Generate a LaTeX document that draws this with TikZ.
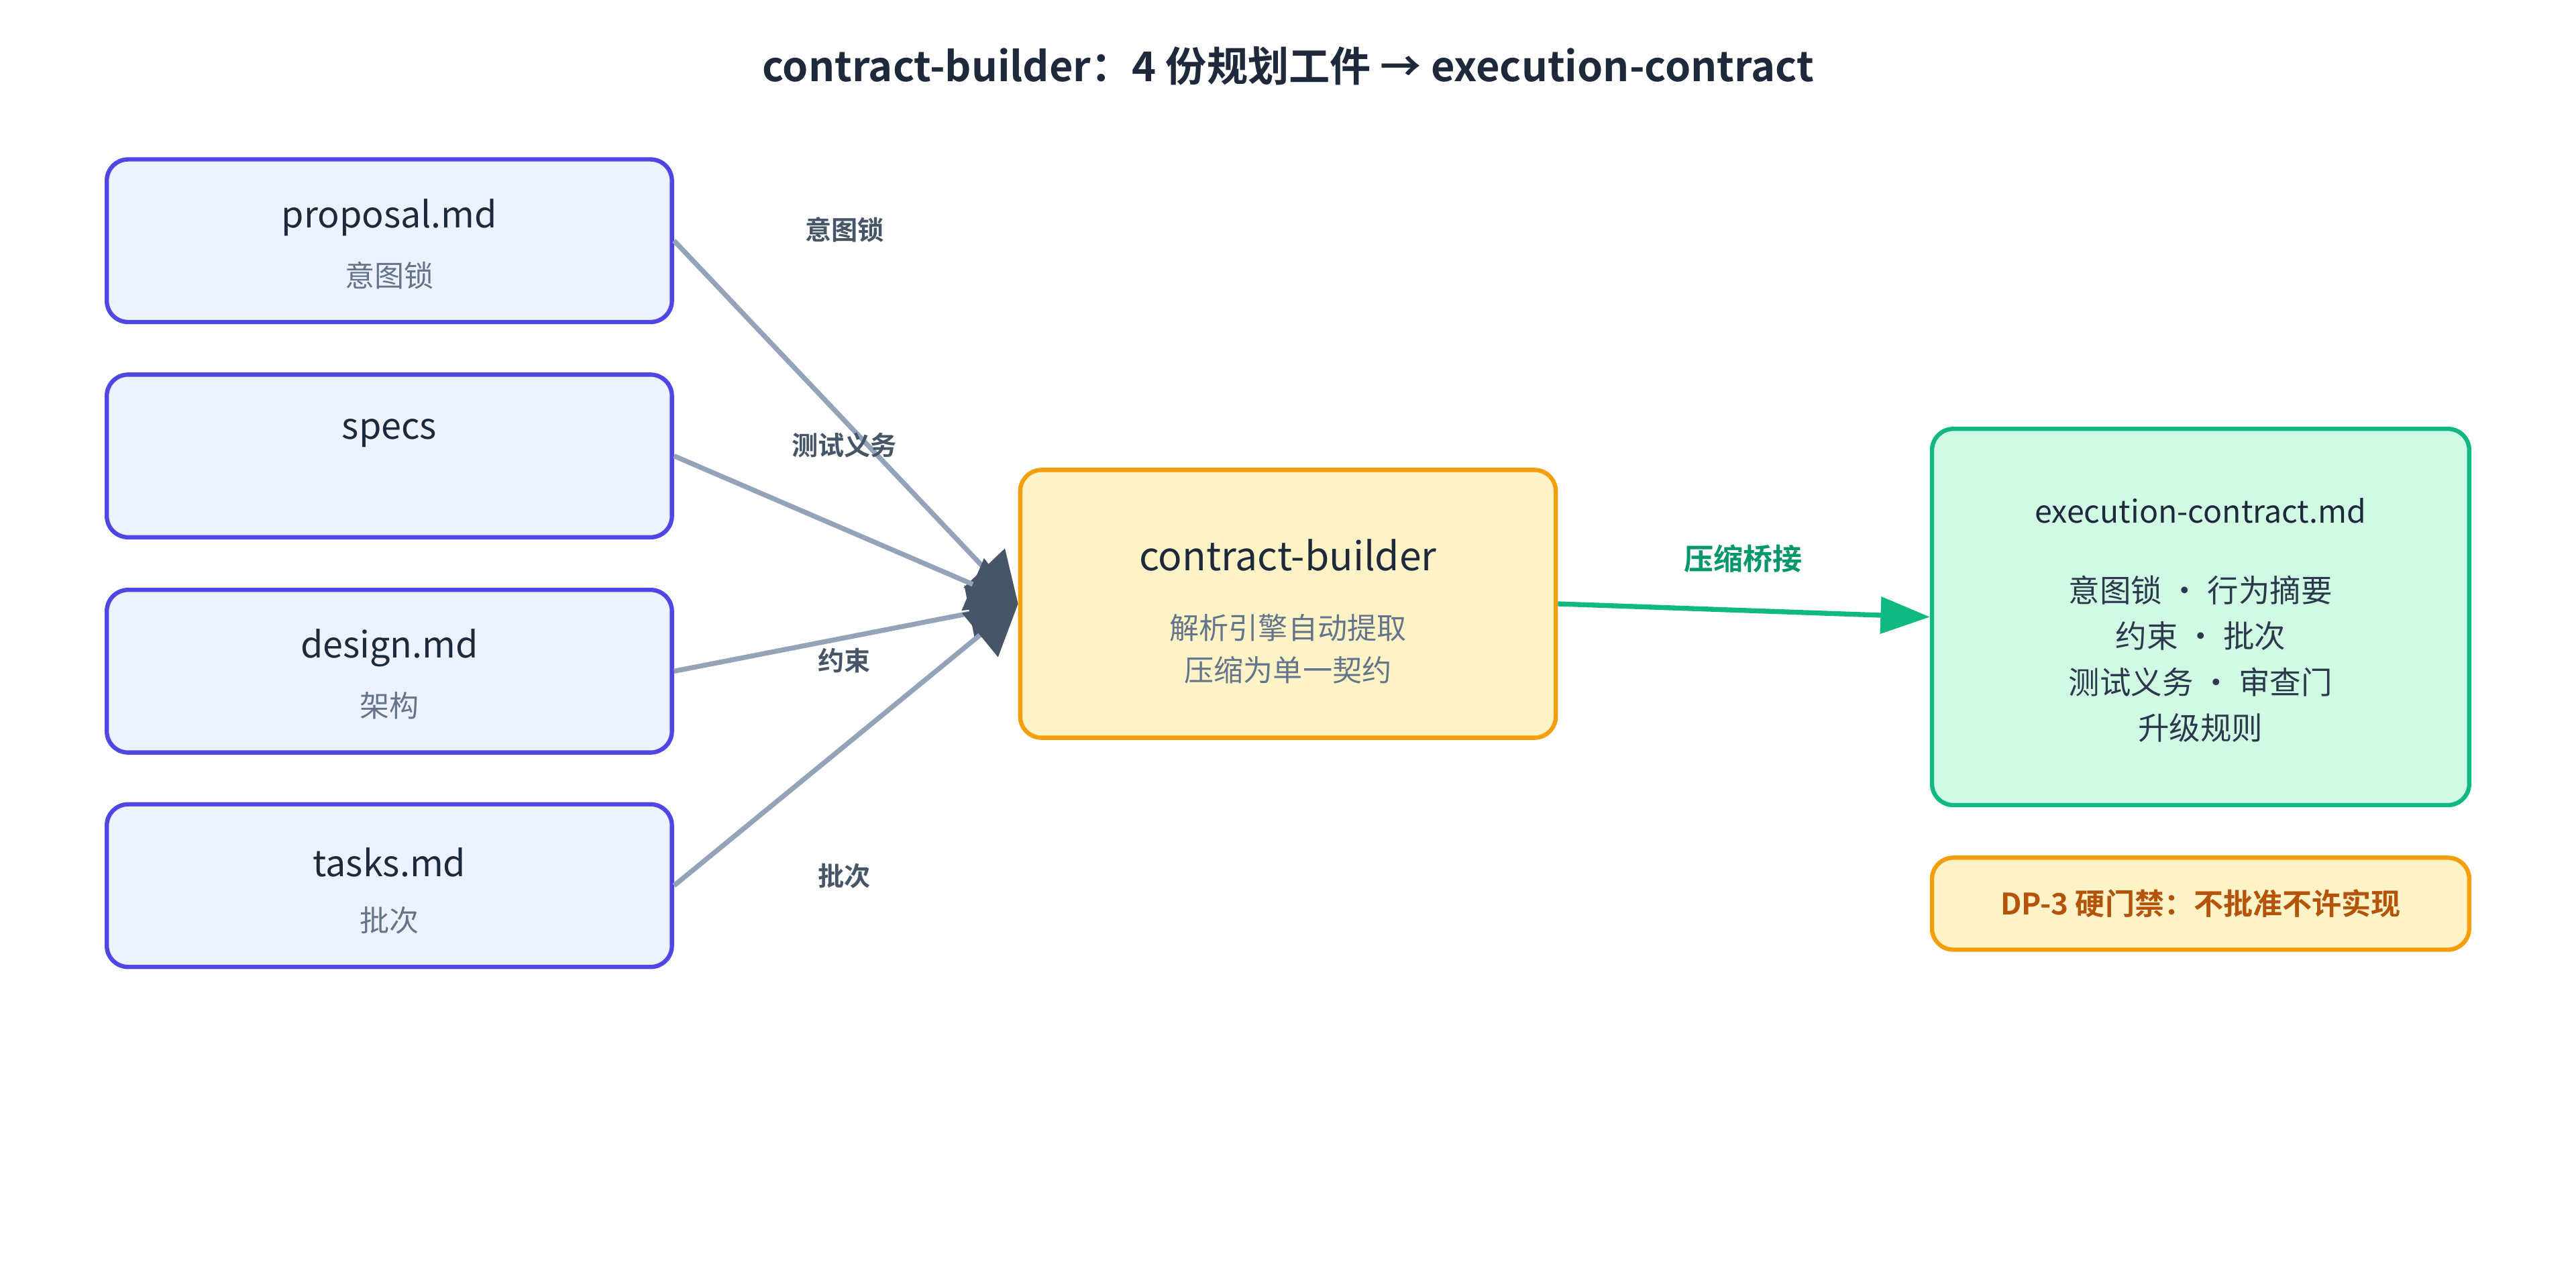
\documentclass[tikz,border=0pt]{standalone}
\usepackage{fontspec}
\setmainfont{Noto Sans CJK SC}[BoldFont={Noto Sans CJK SC Bold}]
\usetikzlibrary{arrows.meta}
\definecolor{ind}{HTML}{4F46E5}\definecolor{indf}{HTML}{EEF2FF}
\definecolor{amb}{HTML}{F59E0B}\definecolor{ambf}{HTML}{FEF3C7}
\definecolor{grn}{HTML}{10B981}\definecolor{grnf}{HTML}{D1FAE5}
\definecolor{dk}{HTML}{1E293B}\definecolor{sub}{HTML}{64748B}
\definecolor{edge}{HTML}{94A3B8}\definecolor{tip}{HTML}{475569}
\definecolor{glab}{HTML}{059669}\definecolor{brn}{HTML}{B45309}
\begin{document}
\begin{tikzpicture}[x=1pt,y=-1pt,
 box/.style={draw=#1,fill=#1f,line width=2.6pt,rounded corners=13pt},
 src/.style={box=ind,minimum width=344pt,minimum height=99pt},
 ttl/.style={font=\fontsize{22}{26}\selectfont,text=dk},
 st/.style={font=\fontsize{18}{22}\selectfont,text=sub},
 el/.style={font=\bfseries\fontsize{16}{19}\selectfont,text=tip},
 conn/.style={draw=edge,line width=3pt,-{Triangle[length=30pt,width=34pt,fill=tip,color=tip]}}]
\useasboundingbox (0,0) rectangle (1568,767.7);
\node[font=\bfseries\fontsize{25}{30}\selectfont,text=dk] (title) at (784,40) {contract-builder：4 份规划工件 → execution-contract};
\foreach \n/\y/\a/\b in {p/146.5/proposal.md/意图锁 / 范围栅栏, s/277.5/specs//需求 / 测试义务, d/408.5/design.md/架构 / 约束, t/539/tasks.md/批次 / 完成定义}{
 \node[src] (\n) at (237,\y) {};
 \node[ttl] (\n t) at (237,\y-14) {\a};
 \node[st] (\n s) at (237,\y+21) {\b};
}
\node[box=amb,minimum width=326pt,minimum height=163pt] (c) at (784,367.5) {};
\node[font=\fontsize{24}{28}\selectfont,text=dk] (ct) at (784,338) {contract-builder};
\node[st,align=center] (cs) at (784,395) {解析引擎自动提取\\[4pt]压缩为单一契约};
\node[box=grn,minimum width=327pt,minimum height=229pt] (e) at (1339.5,375.5) {};
\node[font=\fontsize{19}{23}\selectfont,text=dk] (et) at (1339.5,311) {execution-contract.md};
\node[font=\fontsize{19}{23}\selectfont,text=dk!80!sub,align=center] (es) at (1339.5,401) {意图锁 · 行为摘要\\[5pt]约束 · 批次\\[5pt]测试义务 · 审查门\\[5pt]升级规则};
\node[box=amb,minimum width=327pt,minimum height=56pt,text=brn,font=\bfseries\fontsize{18}{22}\selectfont] (dp) at (1339.5,550) {DP-3 硬门禁：不批准不许实现};
\coordinate (tipc) at (c.west);
\foreach \n in {p,s,d,t}{\draw[conn] (\n.east) -- (tipc);}
\node[el] (l1) at (514,140) {意图锁};
\node[el] (l2) at (514,271) {测试义务};
\node[el] (l3) at (514,402) {约束};
\node[el] (l4) at (514,533) {批次};
\draw[grn,line width=3pt,-{Triangle[length=30pt,width=22pt]}] (c.east) -- (e.west);
\node[font=\bfseries\fontsize{18}{22}\selectfont,text=glab] (gl) at (1061,340) {压缩桥接};
\end{tikzpicture}
\end{document}
